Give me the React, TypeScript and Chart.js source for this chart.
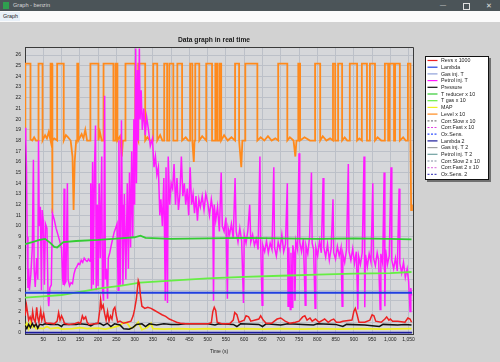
import React, { useEffect, useRef } from 'react';
import { Chart, registerables } from 'chart.js';
Chart.register(...registerables);

const FONT = '"Liberation Sans", Arial, sans-serif';

// ---- data: [time (s), value] ----
const revs: [number, number][] = [
  [0, 1.6], [4, 2.6], [7, 1.9], [10, 1.2], [14, 1.5], [18, 1.1], [21, 2.0], [24, 1.3], [28, 1.0], [32, 2.4], [35, 1.4], [38, 1.0], [43, 2.1], [46, 1.2], [51, 1.8], [55, 1.0], [60, 0.9], [70, 0.9], [80, 0.85], [88, 1.1], [92, 1.9], [96, 1.2], [100, 1.6], [104, 1.3], [108, 0.9], [120, 0.8], [135, 0.85], [146, 1.0], [152, 0.9], [157, 1.6], [161, 1.3], [166, 1.5], [170, 1.0], [175, 0.8], [190, 0.85], [200, 0.9], [205, 2.2], [207, 3.1], [210, 2.3], [214, 2.6], [218, 1.8], [222, 1.2], [226, 2.0], [230, 1.1], [234, 1.6], [238, 1.3], [242, 2.2], [246, 2.4], [250, 1.6], [254, 1.0], [260, 1.1], [270, 0.9], [280, 1.0], [290, 1.1], [296, 1.6], [300, 2.2], [305, 3.2], [310, 4.9], [313, 4.6], [316, 3.5], [320, 2.5], [328, 2.3], [336, 2.4], [345, 2.3], [355, 2.1], [365, 1.9], [375, 1.7], [385, 1.55], [395, 1.3], [405, 1.15], [415, 1.0], [425, 0.9], [440, 0.85], [460, 0.85], [480, 0.85], [500, 0.85], [510, 0.95], [514, 2.0], [518, 2.4], [522, 2.1], [526, 1.0], [540, 0.85], [560, 0.85], [570, 1.2], [574, 1.9], [580, 1.7], [586, 1.0], [600, 1.2], [605, 1.6], [612, 1.5], [618, 1.1], [640, 1.3], [645, 1.6], [652, 1.2], [660, 0.9], [675, 0.9], [690, 1.3], [700, 1.4], [712, 1.1], [725, 0.9], [740, 1.0], [750, 1.1], [760, 1.5], [766, 1.6], [772, 1.2], [780, 1.4], [786, 1.1], [795, 1.3], [805, 1.0], [815, 1.2], [820, 1.3], [830, 1.0], [838, 1.2], [845, 1.3], [852, 1.0], [862, 1.0], [870, 1.1], [895, 1.2], [900, 2.0], [904, 2.3], [909, 1.7], [914, 1.0], [930, 1.0], [944, 1.2], [950, 1.7], [955, 1.6], [960, 1.1], [975, 1.0], [985, 1.3], [990, 1.5], [996, 1.2], [1000, 1.3], [1006, 1.1], [1020, 1.1], [1040, 1.0], [1048, 1.4], [1054, 1.3], [1058, 1.0],
];

const lambda: [number, number][] = [[0, 3.76], [1059, 3.76]];
const lambda2: [number, number][] = [[0, 0.02], [1059, 0.02]];
const gasInj: [number, number][] = [];
const gasInj2: [number, number][] = [];
const petrolInj2: [number, number][] = [];
const corrSlow: [number, number][] = [];
const corrFast: [number, number][] = [];
const oxSens: [number, number][] = [];
const corrSlow2: [number, number][] = [];
const corrFast2: [number, number][] = [];
const oxSens2: [number, number][] = [];

const petrol: [number, number][] = [
  [0, 19.2], [2, 18.5], [4, 15.5], [6, 9], [8, 4.2], [10, 6], [12, 4], [16, 5.5], [20, 8], [23, 16.2], [25, 6], [28, 4.3], [32, 7], [35, 5], [37, 18.0], [39, 10], [42, 11.8], [45, 4], [47, 11.5], [50, 10.5], [53, 4.5], [56, 10.2], [60, 9.8], [63, 3.5], [65, 2.5], [68, 4.2], [72, 4.5], [75, 11.2], [80, 10.6], [85, 9.8], [90, 9.2], [95, 8.6], [100, 7.9], [103, 5], [105, 4.5], [107, 13.5], [109, 4.6], [112, 4.8], [116, 14], [118, 5], [122, 4.4], [126, 4.7], [130, 4.6], [134, 5.5], [138, 6.0], [142, 6.2], [146, 6.5], [150, 6.4], [154, 6.8], [158, 6.6], [162, 7.0], [166, 6.8], [170, 6.7], [174, 6.9], [178, 6.7], [180, 14], [182, 4], [185, 16], [187, 4.5], [190, 15], [193, 19.4], [195, 4], [198, 12], [200, 4.4], [203, 14], [206, 7], [210, 16.5], [212, 4.2], [215, 3], [218, 22.2], [220, 5], [223, 6], [226, 3.2], [228, 7], [232, 7.5], [236, 8.2], [240, 8.8], [244, 9.4], [248, 9.8], [252, 10.2], [255, 4], [257, 18], [259, 11], [261, 4.5], [264, 19.9], [266, 12], [268, 4.4], [272, 13], [276, 5], [280, 14], [283, 6], [286, 15], [289, 8], [292, 17], [295, 9], [298, 20], [300, 12], [303, 26.6], [305, 14], [308, 24.6], [310, 18], [313, 26.6], [315, 20], [318, 22.7], [321, 19], [325, 21], [329, 18.5], [333, 20.2], [338, 19], [343, 17.5], [349, 18.2], [353, 15.5], [357, 16.5], [361, 14.8], [365, 15.5], [369, 11], [372, 12.5], [376, 10], [380, 14.5], [384, 3], [386, 15.5], [390, 2.8], [392, 16.5], [396, 12], [400, 14],
  [404, 13.5], [408, 15.8], [412, 12], [416, 14.5], [420, 11.5], [424, 13], [428, 16.5], [432, 12.8], [436, 14], [440, 12], [444, 13.5], [448, 11], [452, 15.5], [456, 12], [460, 13], [464, 11.2], [468, 12.8], [472, 10.5], [476, 12.5], [480, 11.8], [485, 12.8], [490, 11.5], [495, 13], [500, 12.2], [505, 11], [510, 12.5], [514, 11.5], [516, 3], [518, 12], [522, 10.5], [527, 11.8], [532, 9.5], [537, 15], [540, 10], [545, 9.5], [550, 10.8], [554, 3.2], [556, 9.8], [560, 9.2], [565, 10.2], [570, 8.8], [575, 14.5], [578, 9.5], [583, 8.5], [588, 9.8], [593, 8.6], [598, 2.8], [600, 9.2], [605, 8.4], [610, 9.6], [615, 12], [618, 8.5], [623, 9.2], [628, 8.2], [633, 8.8], [638, 7.8], [643, 16.5], [645, 8.5], [649, 2.6], [651, 8.2], [656, 7.6], [661, 8.6], [666, 7.5], [671, 8.4], [676, 7.8], [681, 15.5], [683, 8], [688, 7.2], [693, 8.5], [698, 7.8], [703, 9.2], [708, 7.6], [713, 8.3], [718, 14], [720, 2.5], [722, 8], [726, 2.2], [728, 7.5], [731, 2.4], [733, 8.2], [737, 7.4], [739, 3], [741, 8.6], [746, 7.8], [750, 16.8], [752, 8.5], [757, 7.6], [762, 8.8], [767, 2.6], [769, 8.2], [774, 7.4], [779, 9], [784, 15], [786, 8.4], [790, 7.8], [794, 2.3], [796, 8], [801, 7.2], [806, 8.6], [811, 7.5], [816, 14.5], [818, 8], [823, 7.1], [828, 8.3], [833, 6.8], [838, 7.9], [843, 12.5], [845, 7.5], [850, 6.9], [855, 8.1], [860, 7.2], [865, 8], [868, 2.5], [870, 7.4], [875, 6.6], [880, 7.8], [885, 15.8], [887, 7.6], [892, 6.8], [897, 7.9], [902, 6.5], [907, 7.6], [911, 2.2], [913, 7.2], [918, 6.4], [923, 7.5], [928, 16.5], [930, 2.4], [932, 7.3], [937, 6.2], [942, 7.4], [947, 6.6], [952, 14], [954, 7], [959, 6.3], [964, 7.5], [968, 6.8], [972, 2.2], [974, 7.4], [979, 6.5], [983, 15], [985, 2.5], [987, 7.8], [992, 6.4], [997, 7.2], [1002, 15.5], [1004, 6.8], [1009, 6], [1014, 7], [1019, 5.8], [1024, 13.5], [1026, 6.5], [1031, 5.6], [1036, 6.6], [1041, 5.2], [1046, 6], [1050, 4.8], [1054, 2.0], [1056, 4.2], [1058, 3.5],
];

const pressure: [number, number][] = [
  [0, 0.7], [5, 0.4], [10, 0.8], [15, 0.5], [20, 0.9], [25, 0.6], [30, 0.85], [35, 0.45], [40, 0.8], [48, 0.75], [55, 0.85], [70, 0.8], [90, 0.8], [100, 0.6], [105, 0.8], [140, 0.8], [150, 0.85], [170, 0.8], [180, 0.65], [190, 0.85], [205, 0.9], [215, 0.7], [225, 0.9], [235, 0.6], [245, 0.85], [260, 0.75], [270, 0.4], [285, 0.35], [295, 0.5], [305, 0.8], [320, 0.85], [330, 0.6], [340, 0.85], [360, 0.75], [380, 0.85], [400, 0.8], [420, 0.8], [440, 0.85], [500, 0.85], [520, 0.75], [530, 0.85], [570, 0.8], [580, 0.6], [590, 0.85], [640, 0.8], [650, 0.6], [660, 0.85], [700, 0.75], [720, 0.85], [760, 0.8], [790, 0.75], [800, 0.85], [850, 0.8], [870, 0.6], [880, 0.8], [930, 0.75], [970, 0.6], [980, 0.8], [1020, 0.75], [1040, 0.8], [1058, 0.75],
];

const mapKpa: [number, number][] = [
  [0, 0.5], [5, 0.9], [10, 0.4], [15, 1.0], [20, 0.5], [25, 0.7], [30, 0.4], [40, 0.45], [50, 0.4], [60, 0.6], [70, 0.4], [90, 0.5], [100, 0.35], [130, 0.4], [150, 0.5], [170, 0.4], [200, 0.45], [220, 0.35], [240, 0.5], [260, 0.7], [270, 1.0], [280, 0.9], [290, 0.4], [300, 0.6], [310, 1.0], [320, 0.3], [335, 0.5], [345, 0.9], [350, 0.4], [380, 0.35], [420, 0.4], [460, 0.35], [500, 0.4], [540, 0.35], [600, 0.4], [650, 0.35], [700, 0.4], [760, 0.35], [800, 0.4], [860, 0.35], [920, 0.4], [980, 0.35], [1058, 0.4],
];

const tReducer: [number, number][] = [
  [0, 8.3], [20, 8.5], [40, 8.7], [55, 8.8], [70, 8.4], [80, 8.05], [88, 8.0], [95, 8.2], [105, 8.5], [140, 8.6], [200, 8.7], [260, 8.85], [300, 8.95], [316, 9.1], [330, 8.9], [400, 8.8], [500, 8.85], [600, 8.9], [700, 8.85], [800, 8.8], [900, 8.85], [1000, 8.8], [1058, 8.75],
];

const tGas: [number, number][] = [
  [0, 3.3], [40, 3.4], [100, 3.55], [150, 3.85], [210, 4.2], [260, 4.4], [315, 4.7], [400, 4.9], [500, 5.1], [600, 5.25], [700, 5.35], [800, 5.45], [900, 5.55], [1000, 5.6], [1058, 5.7],
];

const level: [number, number][] = [
  [0, 18.1], [1, 18.1], [1, 25.2], [15, 25.2], [15, 18.1], [20, 18.0], [25, 18.3], [30, 18.0], [37, 18.0], [37, 25.2], [48, 25.2], [48, 18.0], [55, 18.5], [60, 18.2], [65, 18.8], [70, 18.0], [70, 25.2], [74, 25.2], [74, 11.2], [76, 18.0], [80, 18.2], [88, 18.0], [88, 25.2], [106, 25.2], [106, 18.0], [112, 18.5], [118, 18.3], [125, 18.0], [130, 16.5], [133, 11.5], [136, 16.0], [140, 18.0], [143, 18.0], [143, 25.2], [146, 25.2], [146, 18.0], [155, 18.6], [160, 18.2], [165, 19.0], [170, 18.0], [179, 18.0], [179, 25.2], [201, 25.2], [201, 18.0], [205, 18.8], [210, 18.0], [215, 18.0], [215, 25.2], [242, 25.2], [242, 18.0], [248, 18.0], [248, 25.2], [253, 25.2], [253, 18.0], [260, 18.4], [265, 16.5], [268, 18.0], [275, 18.0], [275, 25.2], [302, 25.2], [302, 18.0], [306, 18.4], [310, 18.0], [310, 25.2], [329, 25.2], [329, 18.0], [335, 18.3], [342, 18.0], [351, 18.0], [351, 25.2], [362, 25.2], [362, 18.0], [370, 18.5], [376, 18.0], [381, 18.0], [381, 25.2], [389, 25.2], [389, 18.0], [395, 18.0], [395, 25.2], [406, 25.2], [406, 18.0], [411, 18.0], [417, 18.0], [417, 25.2], [430, 25.2], [430, 18.0], [440, 18.3], [447, 18.0], [452, 18.0], [452, 25.2], [458, 25.2], [458, 18.0], [462, 16.0], [464, 18.0], [466, 18.0], [466, 25.2], [477, 25.2], [477, 18.0], [485, 18.4], [496, 18.0], [496, 25.2], [512, 25.2], [512, 18.0], [521, 18.0], [521, 25.2], [526, 25.2], [526, 18.0], [532, 18.0], [532, 25.2], [537, 25.2], [537, 18.0], [545, 18.5], [555, 18.0], [565, 18.3], [575, 18.0], [575, 25.2], [586, 25.2], [586, 18.0], [592, 15.5], [595, 18.0], [603, 18.0], [603, 25.2], [636, 25.2], [636, 18.0], [645, 18.3], [655, 18.0], [665, 18.4], [675, 18.0], [685, 18.2], [693, 18.0], [693, 25.2], [718, 25.2], [718, 18.0], [725, 18.3], [735, 18.0], [740, 16.5], [743, 18.0], [748, 18.0], [748, 25.2], [753, 25.2], [753, 18.0], [765, 18.3], [780, 18.0], [794, 18.0], [794, 25.2], [808, 25.2], [808, 18.0], [815, 18.4], [825, 18.0], [835, 18.2], [843, 18.0], [843, 25.2], [849, 25.2], [849, 18.0], [857, 18.0], [857, 25.2], [868, 25.2], [868, 18.0], [875, 18.3], [882, 18.0], [889, 18.0], [889, 25.2], [909, 25.2], [909, 18.0], [915, 18.2], [922, 18.0], [922, 25.2], [936, 25.2], [936, 18.0], [944, 18.0], [944, 25.2], [958, 25.2], [958, 18.0], [965, 18.3], [975, 18.0], [985, 18.0], [985, 25.2], [994, 25.2], [994, 18.0], [998, 18.0], [998, 25.2], [1010, 25.2], [1010, 18.0], [1013, 18.0], [1013, 25.2], [1026, 25.2], [1026, 18.0], [1035, 18.3], [1042, 18.0], [1048, 18.0], [1048, 25.2], [1055, 25.2], [1055, 18.0], [1057, 11.5], [1059, 12.0],
];

const chartTitle = 'Data graph in real time';
const xAxisTitle = 'Time (s)';
const X_MIN = 0, X_MAX = 1062, X_STEP = 50;
const Y_MIN = -0.1, Y_MAX = 26.75, Y_STEP = 1;

const bgPlugin = {
  id: 'bgPlugin',
  beforeDraw(chart: any) {
    const { ctx, chartArea: a, width, height } = chart;
    ctx.save();
    ctx.fillStyle = '#d2d2d2';
    ctx.fillRect(0, 0, width, height);
    ctx.fillStyle = '#d6d7da';
    ctx.fillRect(a.left, a.top, a.right - a.left, a.bottom - a.top);
    ctx.restore();
  },
  afterDatasetsDraw(chart: any) {
    const { ctx, chartArea: a } = chart;
    ctx.save();
    ctx.strokeStyle = '#3a3a3a';
    ctx.lineWidth = 1;
    ctx.beginPath();
    ctx.moveTo(a.left, a.top + 0.5);
    ctx.lineTo(a.right + 0.5, a.top + 0.5);
    ctx.lineTo(a.right + 0.5, a.bottom);
    ctx.stroke();
    ctx.restore();
  },
  afterDraw(chart: any) {
    const { ctx } = chart;
    ctx.save();
    ctx.fillStyle = '#1a1a1a';
    ctx.font = `bold 6.7px ${FONT}`;
    ctx.textAlign = 'center';
    ctx.textBaseline = 'middle';
    ctx.fillText(chartTitle, 214, 18);
    const ds = chart.data.datasets;
    const x0 = 425, y0 = 34, w = 64, rowH = 6.7;
    const h = 124;
    ctx.fillStyle = '#707070';
    ctx.fillRect(x0 + 2, y0 + 2, w, h);
    ctx.fillStyle = '#ffffff';
    ctx.fillRect(x0, y0, w, h);
    ctx.strokeStyle = '#111';
    ctx.lineWidth = 1;
    ctx.strokeRect(x0 + 0.5, y0 + 0.5, w - 1, h - 1);
    ctx.textAlign = 'left';
    ctx.font = `5.3px ${FONT}`;
    ds.forEach((d: any, i: number) => {
      const y = y0 + 4.5 + rowH * i;
      ctx.strokeStyle = d.borderColor;
      ctx.lineWidth = 1.2;
      ctx.setLineDash(d.borderDash && d.borderDash.length ? [2, 1.5] : []);
      ctx.beginPath();
      ctx.moveTo(427.5, y);
      ctx.lineTo(437.5, y);
      ctx.stroke();
      ctx.setLineDash([]);
      ctx.fillStyle = '#1a1a1a';
      ctx.fillText(d.label, 441, y + 0.3);
    });
    ctx.restore();
  },
};

export default function App() {
  const ref = useRef<HTMLCanvasElement>(null);
  useEffect(() => {
    const canvas = ref.current!;
    const pts = (a: [number, number][]) => a.map(([x, y]) => ({ x, y }));
    const mk = (label: string, data: [number, number][], color: string, order: number, dashed = false, width = 1.5) => ({
      label,
      data: pts(data),
      borderColor: color,
      backgroundColor: color,
      borderWidth: width,
      borderDash: dashed ? [3, 2] : [],
      pointRadius: 0,
      pointHoverRadius: 0,
      tension: 0,
      fill: false,
      order,
    });
    const chart = new Chart(canvas, {
      type: 'line',
      data: {
        datasets: [
          mk('Revs x 1000', revs, '#ee2222', 1),
          mk('Lambda', lambda, '#2040e0', 4, false, 1.8),
          mk('Gas inj. T', gasInj, '#8fa0d8', 10),
          mk('Petrol inj. T', petrol, '#ff1aff', 8),
          mk('Pressure', pressure, '#111111', 2),
          mk('T reducer x 10', tReducer, '#33cc33', 6, false, 1.8),
          mk('T gas x 10', tGas, '#66ee44', 7, false, 1.8),
          mk('MAP', mapKpa, '#eeee22', 3, false, 1.8),
          mk('Level x 10', level, '#ff8a1c', 9, false, 1.8),
          mk('Corr.Slow x 10', corrSlow, '#808080', 10, true),
          mk('Corr.Fast x 10', corrFast, '#e040e0', 10, true),
          mk('Ox.Sens.', oxSens, '#3050ff', 10, true),
          mk('Lambda 2', lambda2, '#1a1a9a', 5, false, 1.8),
          mk('Gas inj. T 2', gasInj2, '#a0a0a0', 10),
          mk('Petrol inj. T 2', petrolInj2, '#70a0a0', 10),
          mk('Corr.Slow 2 x 10', corrSlow2, '#8090a0', 10, true),
          mk('Corr.Fast 2 x 10', corrFast2, '#e080e0', 10, true),
          mk('Ox.Sens. 2', oxSens2, '#5050c0', 10, true),
        ],
      },
      options: {
        responsive: false,
        animation: false,
        devicePixelRatio: 1,
        layout: { padding: { left: 0, right: 87, top: 25, bottom: 0 } },
        plugins: { legend: { display: false }, tooltip: { enabled: false }, title: { display: false } },
        scales: {
          x: {
            type: 'linear',
            min: X_MIN,
            max: X_MAX,
            afterFit: (s: any) => { s.height = 28; },
            ticks: {
              stepSize: X_STEP,
              includeBounds: false,
              autoSkip: false,
              maxRotation: 0,
              padding: 3,
              color: '#222',
              font: { size: 5, family: FONT },
              callback: (v: any) => (Number(v) === 0 ? '' : Number(v).toLocaleString('en-US')),
            },
            grid: { color: '#bcc0c8', lineWidth: 1, drawTicks: false },
            border: { display: true, color: '#3a3a3a', width: 1 },
            title: { display: true, text: xAxisTitle, color: '#222', font: { size: 5, family: FONT }, padding: { top: 0, bottom: 7 } },
          },
          y: {
            type: 'linear',
            min: Y_MIN,
            max: Y_MAX,
            afterFit: (s: any) => { s.width = 25; },
            ticks: {
              stepSize: Y_STEP,
              includeBounds: false,
              autoSkip: false,
              padding: 4,
              color: '#222',
              font: { size: 5, family: FONT },
              callback: (v: any) => String(Math.round(Number(v))),
            },
            grid: { color: '#bcc0c8', lineWidth: 1, drawTicks: false },
            border: { display: true, color: '#3a3a3a', width: 1 },
          },
        },
      },
      plugins: [bgPlugin],
    } as any);
    return () => chart.destroy();
  }, []);

  return (
    <div style={{ position: 'fixed', left: 0, top: 0, width: 500, height: 362, background: '#d2d2d2', overflow: 'hidden', fontFamily: FONT }}>
      <div style={{ position: 'absolute', left: 0, top: 0, width: 500, height: 11, background: '#4b5458' }}>
        <div style={{ position: 'absolute', left: 3, top: 2, width: 6, height: 7, background: '#2f9e4f' }} />
        <div style={{ position: 'absolute', left: 13, top: 1, fontSize: 5.6, lineHeight: '9px', color: '#d8d8d8' }}>Graph - benzin</div>
        <div style={{ position: 'absolute', left: 440, top: 1, fontSize: 6, lineHeight: '9px', color: '#e0e0e0' }}>—</div>
        <div style={{ position: 'absolute', left: 463, top: 3, width: 5, height: 5, border: '1px solid #e0e0e0' }} />
        <div style={{ position: 'absolute', left: 486, top: 1, fontSize: 7, lineHeight: '9px', color: '#e0e0e0' }}>✕</div>
      </div>
      <div style={{ position: 'absolute', left: 0, top: 11, width: 500, height: 11, background: '#fbfbfb' }}>
        <div style={{ position: 'absolute', left: 0, top: 1, width: 20, height: 9, background: '#e8f0f8' }} />
        <div style={{ position: 'absolute', left: 3, top: 1, fontSize: 5.4, lineHeight: '9px', color: '#222' }}>Graph</div>
      </div>
      <canvas ref={ref} width={500} height={340} style={{ position: 'absolute', left: 0, top: 22, width: 500, height: 340 }} />
    </div>
  );
}
